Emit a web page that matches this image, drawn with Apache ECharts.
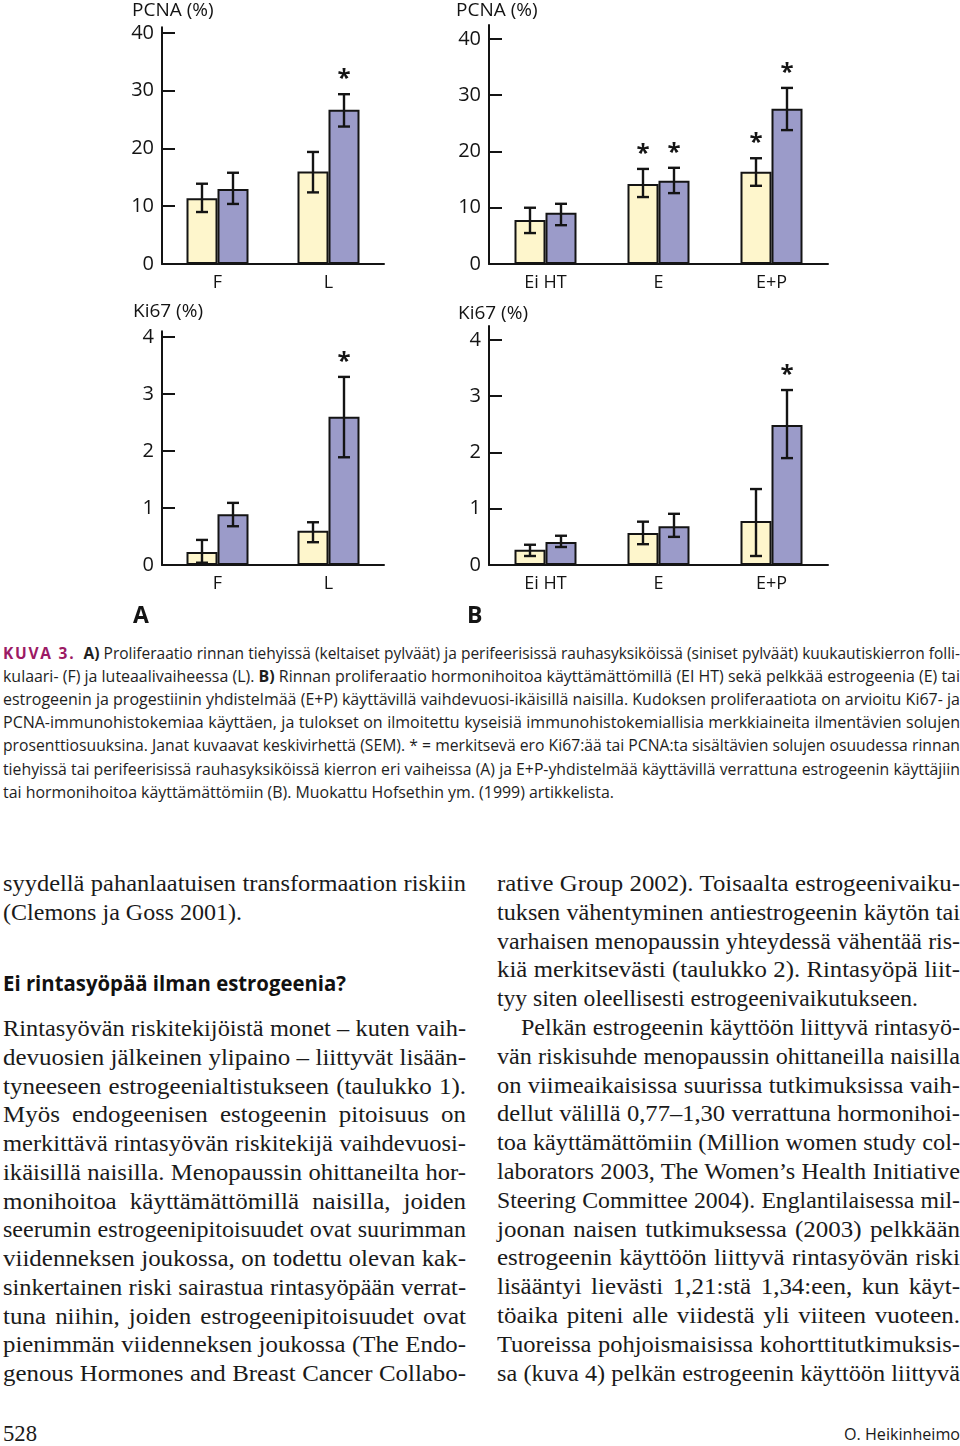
<!DOCTYPE html>
<html><head><meta charset="utf-8">
<script src="https://cdn.jsdelivr.net/npm/echarts@6/dist/echarts.min.js"></script>
<style>
html,body{margin:0;padding:0;background:#fff;}
body{width:960px;height:1446px;position:relative;overflow:hidden;}
#chart{position:absolute;left:0;top:0;width:960px;height:640px;}
.ln{position:absolute;white-space:nowrap;transform-origin:0 50%;}
.cap{font-family:'Open Sans';font-size:16px;color:#1e1e1e;}
.cap b{font-weight:700;}
.kuva{color:#9C1A64;font-weight:700;letter-spacing:1.8px;}
.ser{font-family:'Liberation Serif';font-size:24px;color:#1a1a1a;}
.hd{font-family:'Open Sans';font-size:21px;font-weight:700;color:#111;}
.ft{font-family:'Open Sans';font-size:16px;color:#1a1a1a;}
</style></head>
<body>
<div id="chart"></div>
<script>
// ---------- DATA ----------
const catsA = ['F', 'L'];
const catsB = ['Ei HT', 'E', 'E+P'];
const yTicksPCNA = [0, 10, 20, 30, 40];
const yTicksKi67 = [0, 1, 2, 3, 4];

// A) PCNA (%)  duct = tiehyt (yellow), lob = rauhasyksiköt (blue)
const pcnaA_duct    = [11.4, 16.0];
const pcnaA_duct_lo = [9.0, 12.4];
const pcnaA_duct_hi = [13.9, 19.4];
const pcnaA_duct_sig = [0, 0];
const pcnaA_lob     = [13.0, 26.7];
const pcnaA_lob_lo  = [10.4, 23.8];
const pcnaA_lob_hi  = [15.8, 29.4];
const pcnaA_lob_sig = [0, 1];

// A) Ki67 (%)
const ki67A_duct    = [0.23, 0.60];
const ki67A_duct_lo = [0.04, 0.40];
const ki67A_duct_hi = [0.44, 0.75];
const ki67A_duct_sig = [0, 0];
const ki67A_lob     = [0.89, 2.60];
const ki67A_lob_lo  = [0.68, 1.89];
const ki67A_lob_hi  = [1.09, 3.30];
const ki67A_lob_sig = [0, 1];

// B) PCNA (%)
const pcnaB_duct    = [7.8, 14.2, 16.4];
const pcnaB_duct_lo = [5.5, 11.9, 13.9];
const pcnaB_duct_hi = [10.0, 16.9, 18.8];
const pcnaB_duct_sig = [0, 1, 1];
const pcnaB_lob     = [9.1, 14.8, 27.6];
const pcnaB_lob_lo  = [6.9, 12.6, 23.8];
const pcnaB_lob_hi  = [10.7, 17.1, 31.3];
const pcnaB_lob_sig = [0, 1, 1];

// B) Ki67 (%)
const ki67B_duct    = [0.27, 0.57, 0.78];
const ki67B_duct_lo = [0.16, 0.37, 0.16];
const ki67B_duct_hi = [0.36, 0.77, 1.35];
const ki67B_duct_sig = [0, 0, 0];
const ki67B_lob     = [0.41, 0.69, 2.49];
const ki67B_lob_lo  = [0.32, 0.50, 1.90];
const ki67B_lob_hi  = [0.52, 0.91, 3.11];
const ki67B_lob_sig = [0, 0, 1];

// ---------- CHART ----------
const YELLOW = '#FEF6CC', BLUE = '#9B9BC9', INK = '#141414';
const FONT = '"Open Sans"';
const panels = [
  {grid:{left:162, top:27.2, width:222, height:236.8}, cats:catsA, max:41, ticks:yTicksPCNA,
   d:[pcnaA_duct,pcnaA_duct_lo,pcnaA_duct_hi,pcnaA_duct_sig], l:[pcnaA_lob,pcnaA_lob_lo,pcnaA_lob_hi,pcnaA_lob_sig]},
  {grid:{left:489, top:24.9, width:339, height:239.1}, cats:catsB, max:42.5, ticks:yTicksPCNA,
   d:[pcnaB_duct,pcnaB_duct_lo,pcnaB_duct_hi,pcnaB_duct_sig], l:[pcnaB_lob,pcnaB_lob_lo,pcnaB_lob_hi,pcnaB_lob_sig]},
  {grid:{left:162, top:331.3, width:222, height:233.7}, cats:catsA, max:4.1, ticks:yTicksKi67,
   d:[ki67A_duct,ki67A_duct_lo,ki67A_duct_hi,ki67A_duct_sig], l:[ki67A_lob,ki67A_lob_lo,ki67A_lob_hi,ki67A_lob_sig]},
  {grid:{left:489, top:325.9, width:339, height:239.1}, cats:catsB, max:4.25, ticks:yTicksKi67,
   d:[ki67B_duct,ki67B_duct_lo,ki67B_duct_hi,ki67B_duct_sig], l:[ki67B_lob,ki67B_lob_lo,ki67B_lob_hi,ki67B_lob_sig]}
];
const BW = 31;
function errRender(side){
  return function(params, api){
    const i = api.value(0), lo = api.value(1), hi = api.value(2), s = api.value(3);
    const a = api.coord([i, lo]), b = api.coord([i, hi]);
    const x = a[0] + side * BW / 2;
    const st = {stroke: INK, lineWidth: 2.4};
    const ch = [
      {type:'line', shape:{x1:x, y1:a[1], x2:x, y2:b[1]}, style:st},
      {type:'line', shape:{x1:x-6, y1:a[1], x2:x+6, y2:a[1]}, style:st},
      {type:'line', shape:{x1:x-6, y1:b[1], x2:x+6, y2:b[1]}, style:st}
    ];
    if (s) ch.push({type:'text', x:x, y:b[1]-15, style:{text:'*', font:'bold 24px ' + FONT, fill:INK, align:'center', verticalAlign:'middle'}});
    return {type:'group', children:ch};
  };
}
const option = {animation:false, grid:[], xAxis:[], yAxis:[], series:[], graphic:[]};
panels.forEach((p, k) => {
  option.grid.push(p.grid);
  option.xAxis.push({type:'category', gridIndex:k, data:p.cats,
    axisLine:{lineStyle:{color:INK, width:2}}, axisTick:{show:false},
    axisLabel:{color:INK, fontSize:18, fontFamily:FONT, margin:10}});
  option.yAxis.push({type:'value', gridIndex:k, min:0, max:p.max, splitLine:{show:false},
    axisLine:{show:true, lineStyle:{color:INK, width:2}},
    axisTick:{show:true, inside:true, length:13, lineStyle:{color:INK, width:2}, customValues:p.ticks},
    axisLabel:{color:INK, fontSize:20, fontFamily:FONT, margin:8, customValues:p.ticks}});
  [[p.d, YELLOW], [p.l, BLUE]].forEach(([arr, col]) => {
    option.series.push({type:'bar', xAxisIndex:k, yAxisIndex:k, data:arr[0], barWidth:BW, barGap:'0%',
      itemStyle:{color:col, borderColor:INK, borderWidth:2}, z:2});
  });
  [[p.d, -1], [p.l, 1]].forEach(([arr, side]) => {
    option.series.push({type:'custom', xAxisIndex:k, yAxisIndex:k, z:3, renderItem:errRender(side),
      data:arr[0].map((v, i) => [i, arr[1][i], arr[2][i], arr[3][i]])});
  });
});
const gtxt = (t, x, y, font) => ({type:'text', x:x, y:y, style:{text:t, font:font, fill:INK, verticalAlign:'middle'}});
option.graphic = [
  gtxt('PCNA (%)', 132, 11, '19px ' + FONT),
  gtxt('PCNA (%)', 456, 11, '19px ' + FONT),
  gtxt('Ki67 (%)', 133, 312, '19px ' + FONT),
  gtxt('Ki67 (%)', 458, 314, '19px ' + FONT),
  gtxt('A', 133, 616, 'bold 23px ' + FONT),
  gtxt('B', 467, 616, 'bold 23px ' + FONT)
];
echarts.init(document.getElementById('chart'), null, {renderer:'canvas'}).setOption(option);

// ---------- TEXT ----------
function placeLine(html, cls, x, top, w, mode, pref){
  const d = document.createElement('div');
  d.className = 'ln ' + cls;
  d.style.left = x + 'px'; d.style.top = top + 'px';
  const s = document.createElement('span'); s.innerHTML = html; d.appendChild(s);
  document.body.appendChild(d);
  const n = s.getBoundingClientRect().width;
  let sc;
  if (mode === 'j') {
    sc = Math.min(pref || 1, w / (n + 1));
    d.style.whiteSpace = 'normal';
    d.style.width = (w / sc) + 'px';
    d.style.textAlign = 'justify';
    d.style.textAlignLast = 'justify';
  } else if (mode === 'r') {
    sc = w / n; d.style.left = (x - w) + 'px';
  } else {
    sc = w / n;
  }
  d.style.transform = 'scaleX(' + sc + ')';
}
const capLines = [
  '<span class="kuva">KUVA 3.</span>&nbsp; <b>A)</b> Proliferaatio rinnan tiehyissä (keltaiset pylväät) ja perifeerisissä rauhasyksiköissä (siniset pylväät) kuukautiskierron folli-',
  'kulaari- (F) ja luteaalivaiheessa (L). <b>B)</b> Rinnan proliferaatio hormonihoitoa käyttämättömillä (EI HT) sekä pelkkää estrogeenia (E) tai',
  'estrogeenin ja progestiinin yhdistelmää (E+P) käyttävillä vaihdevuosi-ikäisillä naisilla. Kudoksen proliferaatiota on arvioitu Ki67- ja',
  'PCNA-immunohistokemiaa käyttäen, ja tulokset on ilmoitettu kyseisiä immunohistokemiallisia merkkiaineita ilmentävien solujen',
  'prosenttiosuuksina. Janat kuvaavat keskivirhettä (SEM). * = merkitsevä ero Ki67:ää tai PCNA:ta sisältävien solujen osuudessa rinnan',
  'tiehyissä tai perifeerisissä rauhasyksiköissä kierron eri vaiheissa (A) ja E+P-yhdistelmää käyttävillä verrattuna estrogeenin käyttäjiin',
  'tai hormonihoitoa käyttämättömiin (B). Muokattu Hofsethin ym. (1999) artikkelista.'
];
capLines.forEach((t, i) => {
  const yc = 653 + i * 23.2;
  if (i < 6) placeLine(t, 'cap', 3, yc - 11.5, 957, 'j', 1);
  else placeLine(t, 'cap', 3, yc - 11.5, 611, 'f');
});

const SER_OFF = 15, SER_PREF = 1.04;
placeLine('syydellä pahanlaatuisen transformaation riskiin', 'ser', 3, 885 - SER_OFF, 463, 'j', SER_PREF);
placeLine('(Clemons ja Goss 2001).', 'ser', 3, 914 - SER_OFF, 239, 'f');
placeLine('Ei rintasyöpää ilman estrogeenia?', 'hd', 3, 983 - 14, 343, 'f');
const leftLines = [
  'Rintasyövän riskitekijöistä monet – kuten vaih-',
  'devuosien jälkeinen ylipaino – liittyvät lisään-',
  'tyneeseen estrogeenialtistukseen (taulukko 1).',
  'Myös endogeenisen estogeenin pitoisuus on',
  'merkittävä rintasyövän riskitekijä vaihdevuosi-',
  'ikäisillä naisilla. Menopaussin ohittaneilta hor-',
  'monihoitoa käyttämättömillä naisilla, joiden',
  'seerumin estrogeenipitoisuudet ovat suurimman',
  'viidenneksen joukossa, on todettu olevan kak-',
  'sinkertainen riski sairastua rintasyöpään verrat-',
  'tuna niihin, joiden estrogeenipitoisuudet ovat',
  'pienimmän viidenneksen joukossa (The Endo-',
  'genous Hormones and Breast Cancer Collabo-'
];
leftLines.forEach((t, i) => placeLine(t, 'ser', 3, 1030 + i * 28.75 - SER_OFF, 463, 'j', SER_PREF));
const rightLines = [
  'rative Group 2002). Toisaalta estrogeenivaiku-',
  'tuksen vähentyminen antiestrogeenin käytön tai',
  'varhaisen menopaussin yhteydessä vähentää ris-',
  'kiä merkitsevästi (taulukko 2). Rintasyöpä liit-',
  'tyy siten oleellisesti estrogeenivaikutukseen.',
  'Pelkän estrogeenin käyttöön liittyvä rintasyö-',
  'vän riskisuhde menopaussin ohittaneilla naisilla',
  'on viimeaikaisissa suurissa tutkimuksissa vaih-',
  'dellut välillä 0,77–1,30 verrattuna hormonihoi-',
  'toa käyttämättömiin (Million women study col-',
  'laborators 2003, The Women’s Health Initiative',
  'Steering Committee 2004). Englantilaisessa mil-',
  'joonan naisen tutkimuksessa (2003) pelkkään',
  'estrogeenin käyttöön liittyvä rintasyövän riski',
  'lisääntyi lievästi 1,21:stä 1,34:een, kun käyt-',
  'töaika piteni alle viidestä yli viiteen vuoteen.',
  'Tuoreissa pohjoismaisissa kohorttitutkimuksis-',
  'sa (kuva 4) pelkän estrogeenin käyttöön liittyvä'
];
rightLines.forEach((t, i) => {
  const top = 885 + i * 28.8 - SER_OFF;
  if (i === 4) placeLine(t, 'ser', 497, top, 421, 'f');
  else if (i === 5) placeLine(t, 'ser', 521, top, 439, 'j', SER_PREF);
  else placeLine(t, 'ser', 497, top, 463, 'j', SER_PREF);
});
placeLine('528', 'ser', 3, 1435 - SER_OFF, 34, 'f');
placeLine('O. Heikinheimo', 'ft', 960, 1434 - 11, 116, 'r');
</script>
</body></html>
